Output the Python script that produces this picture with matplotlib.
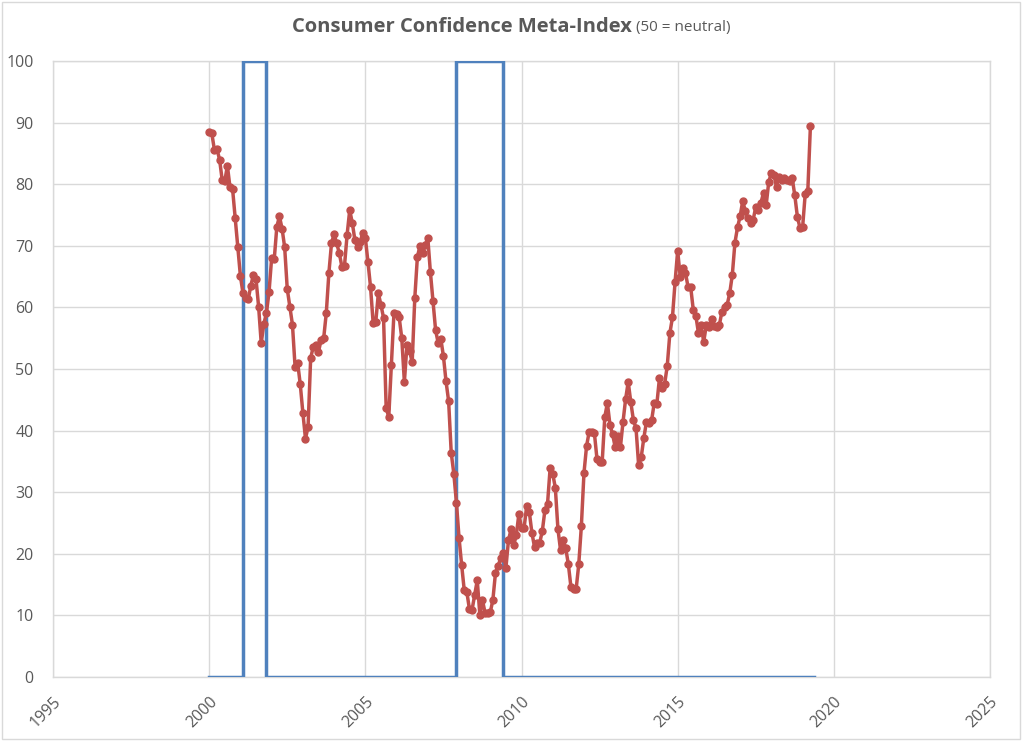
import numpy as np
import matplotlib
matplotlib.use("Agg")
import matplotlib.pyplot as plt
from matplotlib.patches import Rectangle

# ---- data ----
start_year = 2000.0          # Jan 2000, monthly
index_values = [
    88.5, 88.3, 85.6, 85.7, 84.0, 80.7, 80.5, 83.0, 79.5, 79.2, 74.5, 69.8,
    65.1, 62.3, 61.5, 61.3, 63.5, 65.3, 64.6, 60.1, 54.2, 57.3, 59.1, 62.5,
    68.0, 67.8, 73.1, 74.8, 72.8, 69.8, 63.0, 60.1, 57.2, 50.4, 51.0, 47.5,
    42.9, 38.7, 40.6,
    51.8, 53.6, 53.9, 52.8, 54.7, 55.0, 59.1, 65.6, 70.4, 71.9, 70.4, 68.8,
    66.6, 66.8, 71.8, 75.8, 73.7, 70.9, 69.8, 70.6, 72.1, 71.3, 67.4, 63.3,
    57.5, 57.6, 62.3, 60.4, 58.3, 43.7, 42.2, 50.6, 59.1, 58.9, 58.4, 55.0,
    47.9, 53.9, 52.9, 51.1, 61.5, 68.2, 70.0, 68.8, 70.1, 71.3, 65.7, 61.0,
    56.3, 54.2, 54.9, 52.1, 48.0, 44.8,
    36.4, 33.0, 28.3, 22.6, 18.2, 14.1, 13.8, 11.0, 10.9, 13.3, 15.7, 10.1,
    12.5, 10.4, 10.4, 10.5, 12.5, 16.9, 18.0, 19.3, 20.1, 17.7,
    22.2, 24.0, 21.4, 23.0, 26.5, 24.2, 24.2, 27.8, 26.8, 23.4, 21.1, 21.8,
    21.8, 23.7, 27.1, 28.1, 33.9, 33.0, 30.7, 24.0, 20.6, 22.2, 20.9, 18.3,
    14.6, 14.3, 14.3, 18.3, 24.5, 33.1, 37.5, 39.8, 39.8, 39.6, 35.4, 34.9,
    34.9, 42.2, 44.5, 40.9, 39.4, 37.3, 39.1, 37.3, 41.4, 45.1, 47.9, 44.6,
    41.7, 40.4, 34.4, 35.7, 38.8, 41.4, 41.2, 41.7, 44.5, 44.3, 48.5, 46.9,
    47.6, 50.5, 55.8, 58.4, 64.1, 69.2, 64.9, 66.4, 65.6, 63.3, 63.3, 59.6,
    58.6, 55.8, 57.1, 54.4, 57.1, 56.8, 58.1, 57.0, 56.8, 57.1, 59.3, 60.0,
    60.4,
    62.3, 65.3, 70.5, 73.0, 74.8, 77.3, 75.6, 74.5, 73.7, 74.2, 76.3, 75.8,
    77.0, 78.6, 76.6, 80.4, 81.8, 81.5, 79.5, 81.2, 80.7, 81.0, 80.7, 80.6,
    81.0, 78.2, 74.7, 72.9, 73.0, 78.4, 78.9, 89.4,
]
recession_start = [2001.083, 2007.917]
recession_end = [2001.833, 2009.417]
recession_level = 100
series_end = 2019.37

x_ticks = [1995, 2000, 2005, 2010, 2015, 2020, 2025]
y_ticks = [0, 10, 20, 30, 40, 50, 60, 70, 80, 90, 100]
title_main = "Consumer Confidence Meta-Index"
title_sub = "(50 = neutral)"

# ---- derived ----
dates = start_year + np.arange(len(index_values)) / 12.0
rx, ry = [start_year], [0]
for s, e in zip(recession_start, recession_end):
    rx += [s, s, e, e]
    ry += [0, recession_level, recession_level, 0]
rx.append(series_end)
ry.append(0)

plt.rcParams['font.family'] = ['Open Sans', 'DejaVu Sans']
grey_txt = '#595959'
grid_c = '#d9d9d9'

fig = plt.figure(figsize=(10.24, 7.41), dpi=100)
fig.patch.set_facecolor('white')
ax = fig.add_axes([53/1024, 1-677/741, (990-53)/1024, (677-61)/741])

ax.plot(rx, ry, color='#4F81BD', lw=2.5, zorder=3, solid_joinstyle='miter')
ax.plot(dates, index_values, color='#C0504D', lw=2.5, marker='o', ms=5,
        zorder=4)

ax.set_xlim(1995, 2025)
ax.set_ylim(0, 100)
ax.set_xticks(x_ticks)
ax.set_yticks(y_ticks)
ax.set_xticklabels([str(t) for t in x_ticks], rotation=45, ha='right',
                   rotation_mode='anchor')
ax.tick_params(axis='both', length=0, labelsize=11.5, colors=grey_txt)
ax.tick_params(axis='x', pad=12)
ax.tick_params(axis='y', pad=14)
ax.grid(True, color=grid_c, lw=1)
ax.set_axisbelow(True)
for sp in ax.spines.values():
    sp.set_color(grid_c)
    sp.set_linewidth(1)

# title with two parts, centered
t1 = fig.text(0, 1-27/741, title_main, fontsize=14.5, fontweight='bold',
              color=grey_txt, va='center', ha='left')
t2 = fig.text(0, 1-27/741, " " + title_sub, fontsize=11, color=grey_txt,
              va='center', ha='left')
fig.canvas.draw()
r = fig.canvas.get_renderer()
w1 = t1.get_window_extent(r).width
w2 = t2.get_window_extent(r).width
x0 = 511 - (w1 + w2) / 2
t1.set_x(x0 / 1024)
t2.set_x((x0 + w1) / 1024)

fig.patches.append(Rectangle((0.002, 0.003), 0.994, 0.994,
                             transform=fig.transFigure, fill=False,
                             edgecolor='#d9d9d9', lw=1))

fig.savefig('out.png', dpi=100, facecolor='white')
